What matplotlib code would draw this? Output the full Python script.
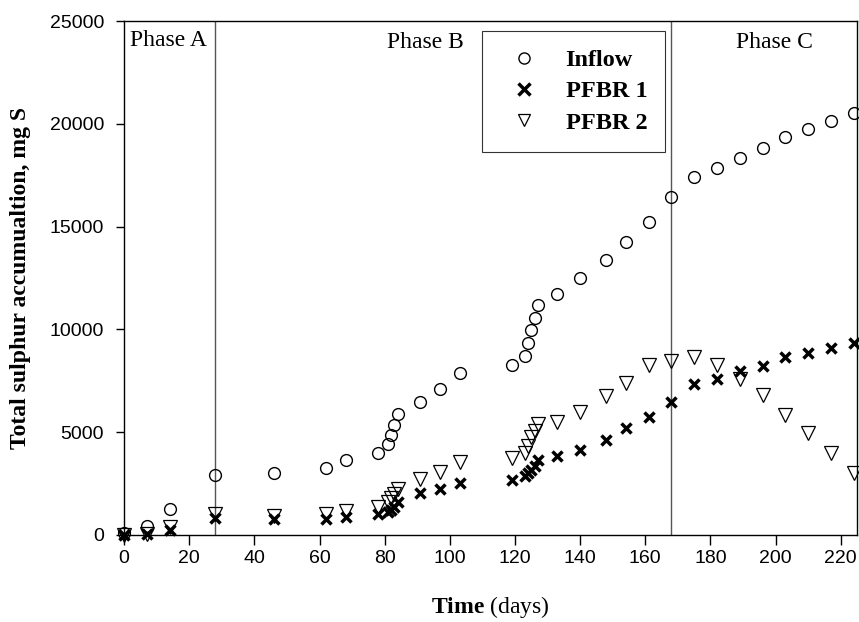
import matplotlib.pyplot as plt

plt.rcParams['mathtext.fontset'] = 'custom'
plt.rcParams['mathtext.bf'] = 'Liberation Serif:bold'
plt.rcParams['mathtext.rm'] = 'Liberation Serif'

# --- data ---
days = [0, 7, 14, 28, 46, 62, 68, 78, 81, 82, 83, 84, 91, 97, 103,
        119, 123, 124, 125, 126, 127, 133, 140, 148, 154, 161, 168,
        175, 182, 189, 196, 203, 210, 217, 224]

inflow = [80, 440, 1250, 2930, 3030, 3240, 3630, 4010, 4400, 4880, 5360, 5880,
          6480, 7100, 7870, 8260, 8700, 9320, 9950, 10570, 11170, 11730, 12500,
          13390, 14270, 15240, 16420, 17420, 17860, 18360, 18850, 19350, 19730,
          20120, 20540]

pfbr1 = [0, 50, 250, 830, 770, 770, 870, 1020, 1120, 1220, 1350, 1600,
         2040, 2240, 2510, 2660, 2850, 2990, 3140, 3340, 3660, 3860, 4150,
         4630, 5210, 5750, 6480, 7330, 7580, 7970, 8220, 8640, 8870, 9100, 9320]

pfbr2 = [0, 60, 390, 1000, 900, 1000, 1150, 1350, 1600, 1800, 2000, 2250,
         2700, 3050, 3550, 3750, 4000, 4350, 4750, 5050, 5400, 5500, 6000,
         6750, 7400, 8250, 8450, 8650, 8250, 7600, 6800, 5850, 4950, 4000, 3000]

phase_edges = [28, 168]
phase_labels = ['Phase A', 'Phase B', 'Phase C']
phase_x = [13.5, 92.5, 199.5]
phase_y = [24070, 23980, 23980]

serif = 'Liberation Serif'
sans = 'Liberation Sans'

fig = plt.figure(figsize=(8.59, 6.22), dpi=100)
ax = fig.add_axes([0.1444, 0.14, 0.8533, 0.826])

ax.plot(days, inflow, 'o', ms=8.5, mfc='none', mec='black', mew=1.0,
        label='Inflow', clip_on=False, zorder=3)
ax.plot(days, pfbr1, 'x', ms=7, color='black', mew=2.5,
        label='PFBR 1', clip_on=False, zorder=3)
ax.plot(days, pfbr2, 'v', ms=9.5, mfc='none', mec='black', mew=0.9,
        label='PFBR 2', clip_on=False, zorder=3)

for xe in phase_edges:
    ax.axvline(xe, color='#555555', lw=1.0, zorder=1)

for xt, yt, lab in zip(phase_x, phase_y, phase_labels):
    ax.text(xt, yt, lab, ha='center', va='center', fontsize=17, family=serif)

ax.set_xlim(0, 225)
ax.set_ylim(0, 25000)
ax.set_xticks(range(0, 221, 20))
ax.set_yticks(range(0, 25001, 5000))
ax.tick_params(direction='out', width=1, labelsize=14, top=False, right=False)
ax.tick_params(axis='x', length=7, pad=4)
ax.tick_params(axis='y', length=6, pad=8.5)
for lbl in ax.get_xticklabels() + ax.get_yticklabels():
    lbl.set_family(sans)
for sp in ax.spines.values():
    sp.set_linewidth(1.0)

ax.set_ylabel('Total sulphur accumualtion, mg S', fontsize=17,
              family=serif, fontweight='bold', labelpad=13)
ax.set_xlabel(r'$\mathbf{Time}$ (days)', fontsize=17, family=serif, labelpad=19)

leg = ax.legend(loc='upper left', bbox_to_anchor=(0.488, 0.981), frameon=True,
                fancybox=False, edgecolor='black', borderpad=0.75,
                handletextpad=0.7, labelspacing=0.38, borderaxespad=0,
                prop={'family': serif, 'weight': 'bold', 'size': 17.5})
leg.get_frame().set_linewidth(0.8)
for h in leg.legend_handles:
    h.set_markersize(8)

fig.savefig('out.png', dpi=100)
